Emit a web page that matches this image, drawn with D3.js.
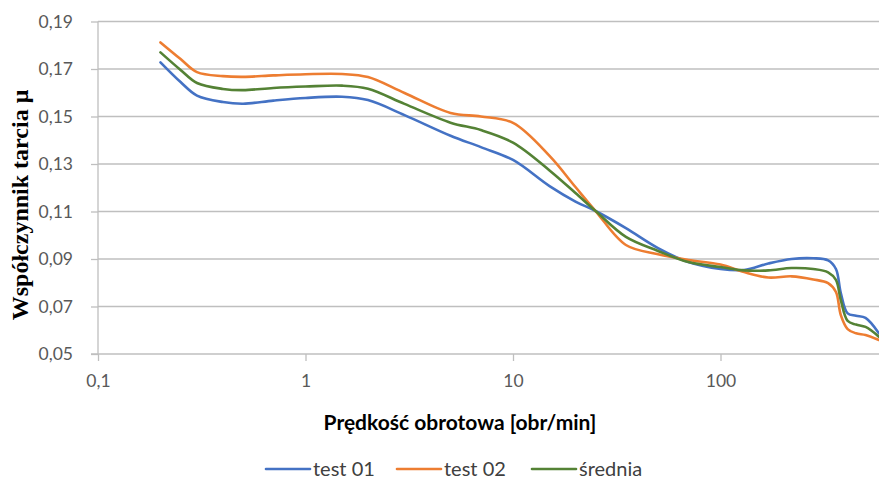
<!DOCTYPE html>
<html>
<head>
<meta charset="utf-8">
<script src="https://cdn.jsdelivr.net/npm/d3@7"></script>
<style>
  html, body { margin: 0; padding: 0; background: #fff; }
  svg { display: block; }
</style>
</head>
<body>
<svg id="chart" width="879" height="484"></svg>
<script>
// ---- data ----
const speeds = [0.2, 0.25, 0.3, 0.4, 0.5, 0.7, 1, 1.5, 2, 3, 5, 7, 10, 15, 20, 25, 35, 50, 70, 100, 130, 170, 220, 280, 330, 360, 380, 410, 450, 500, 580];
const test01 = [0.1728, 0.1645, 0.1588, 0.1561, 0.1554, 0.1567, 0.1578, 0.1583, 0.1569, 0.1506, 0.1419, 0.1371, 0.1317, 0.1207, 0.1142, 0.1102, 0.1030, 0.0946, 0.0887, 0.0858, 0.0854, 0.0881, 0.0900, 0.0903, 0.0894, 0.0858, 0.0757, 0.0671, 0.0661, 0.0652, 0.0587];
const test02 = [0.1812, 0.1742, 0.1687, 0.1670, 0.1667, 0.1673, 0.1678, 0.1679, 0.1666, 0.1599, 0.1515, 0.1500, 0.1473, 0.1334, 0.1203, 0.1102, 0.0959, 0.0920, 0.0896, 0.0877, 0.0845, 0.0822, 0.0827, 0.0814, 0.0798, 0.0761, 0.0664, 0.0605, 0.0587, 0.0580, 0.0559];
const srednia = [0.1770, 0.1696, 0.1641, 0.1616, 0.1611, 0.1620, 0.1626, 0.1630, 0.1617, 0.1553, 0.1474, 0.1443, 0.1390, 0.1273, 0.1178, 0.1102, 0.0993, 0.0934, 0.0887, 0.0866, 0.0852, 0.0852, 0.0862, 0.0858, 0.0844, 0.0812, 0.0727, 0.0639, 0.0624, 0.0614, 0.0573];
const seriesNames = ["test 01", "test 02", "średnia"];
const seriesColors = ["#4472C4", "#ED7D31", "#548235"];
const yTicks = [0.05, 0.07, 0.09, 0.11, 0.13, 0.15, 0.17, 0.19];
const xTicks = [0.1, 1, 10, 100];
const xTickLabels = ["0,1", "1", "10", "100"];
const yTitle = "Współczynnik tarcia μ";
const xTitle = "Prędkość obrotowa [obr/min]";

const series = [test01, test02, srednia];

const W = 879, H = 484;
const pLeft = 98, pTop = 21.5, pBottom = 354, pRight = 879;
const decade = 207.5;

const svg = d3.select("#chart");

const x = d3.scaleLog().domain([0.1, 1000]).range([pLeft, pLeft + 4 * decade]);
const y = d3.scaleLinear().domain([0.05, 0.19]).range([pBottom, pTop]);

const fmtY = v => d3.format(".2f")(v).replace(".", ",");

// clip
svg.append("defs").append("clipPath").attr("id", "plotclip")
  .append("rect").attr("x", pLeft).attr("y", 0).attr("width", pRight - pLeft).attr("height", H);

// gridlines
svg.append("g").selectAll("line").data(yTicks.filter(d => d > 0.05)).join("line")
  .attr("x1", pLeft).attr("x2", pRight)
  .attr("y1", d => y(d)).attr("y2", d => y(d))
  .attr("stroke", "#BFBFBF").attr("stroke-width", 1.3);

// y axis
const yAxis = d3.axisLeft(y).tickValues(yTicks).tickFormat(fmtY).tickSize(7).tickPadding(18);
const gy = svg.append("g").attr("transform", `translate(${pLeft},0)`).call(yAxis);
gy.select(".domain").attr("stroke", "#BFBFBF").attr("stroke-width", 1.3).attr("d", `M0,${pTop}V${pBottom}`);
gy.selectAll(".tick line").attr("stroke", "#BFBFBF").attr("stroke-width", 1.3);
gy.selectAll(".tick text").attr("fill", "#595959").style("font-family", "Lato, 'Open Sans', sans-serif").style("font-size", "17.5px");

// x axis
const xAxis = d3.axisBottom(x).tickValues(xTicks).tickFormat((d, i) => xTickLabels[i]).tickSize(7).tickPadding(14);
const gx = svg.append("g").attr("transform", `translate(0,${pBottom})`).call(xAxis);
gx.select(".domain").attr("stroke", "#BFBFBF").attr("stroke-width", 1.3).attr("d", `M${pLeft - 7},0H${pRight}`);
gx.selectAll(".tick line").attr("stroke", "#BFBFBF").attr("stroke-width", 1.3);
gx.selectAll(".tick text").attr("fill", "#595959").style("font-family", "Lato, 'Open Sans', sans-serif").style("font-size", "17.5px");

// lines
const line = d3.line()
  .x(d => x(d[0])).y(d => y(d[1]))
  .curve(d3.curveCatmullRom.alpha(0.5));

const gl = svg.append("g").attr("clip-path", "url(#plotclip)");
series.forEach((vals, i) => {
  const pts = speeds.map((s, k) => [s, vals[k]]);
  gl.append("path").datum(pts)
    .attr("d", line)
    .attr("fill", "none")
    .attr("stroke", seriesColors[i])
    .attr("stroke-width", 2.6)
    .attr("stroke-linecap", "round")
    .attr("stroke-linejoin", "round");
});

// y title
svg.append("text")
  .attr("transform", `translate(28,205) rotate(-90)`)
  .attr("text-anchor", "middle")
  .style("font-family", "'Liberation Serif', 'Times New Roman', serif")
  .style("font-weight", "bold")
  .style("font-size", "24px")
  .attr("fill", "#000")
  .text(yTitle);

// x title
svg.append("text")
  .attr("x", 460).attr("y", 430)
  .attr("text-anchor", "middle")
  .style("font-family", "Lato, 'Open Sans', sans-serif")
  .style("font-weight", "bold")
  .style("font-size", "21px")
  .attr("fill", "#000")
  .text(xTitle);

// legend
const legendX = [266, 397, 532];
const lg = svg.append("g");
seriesNames.forEach((n, i) => {
  const g = lg.append("g").attr("transform", `translate(${legendX[i]},469)`);
  g.append("line").attr("x1", 0).attr("x2", 44).attr("y1", 0).attr("y2", 0)
    .attr("stroke", seriesColors[i]).attr("stroke-width", 2.6).attr("stroke-linecap", "round");
  g.append("text").attr("x", 47).attr("y", 7)
    .style("font-family", "Lato, 'Open Sans', sans-serif")
    .style("font-size", "20px")
    .attr("fill", "#404040")
    .text(n);
});
</script>
</body>
</html>
